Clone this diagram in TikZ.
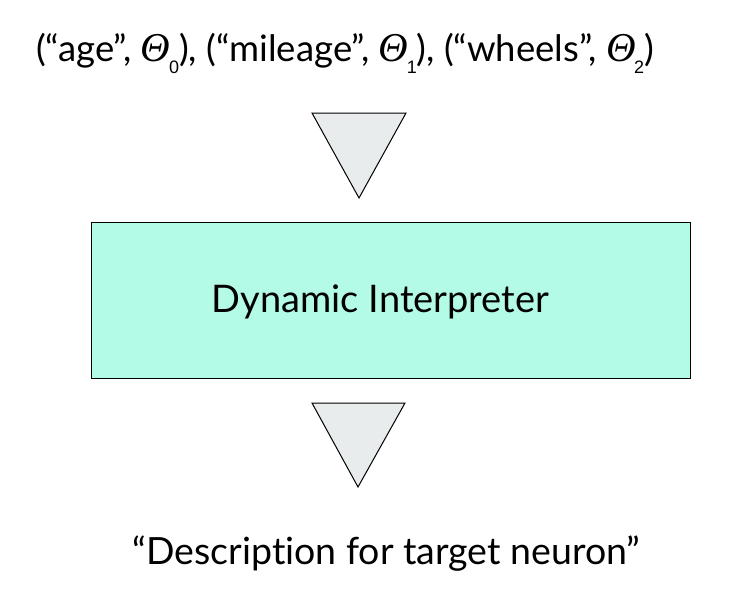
\documentclass[tikz,border=0pt]{standalone}
\usepackage{fontspec}
\setmainfont{Lato}[Ligatures=NoCommon]
\newfontfamily\thetafont{Liberation Serif}
\newfontfamily\subfont{Liberation Sans}
\usetikzlibrary{positioning}
\definecolor{mint}{HTML}{B3FBE6}
\definecolor{lgray}{HTML}{E8ECEC}
\tikzset{
  every picture/.style={
    every path/.style={line width=1pt},
  }
}
\tikzset{interp/.style = {draw, fill=mint, inner sep=0pt,
                          minimum width=599pt, minimum height=156pt}}
\tikzset{tri/.style = {draw, fill=lgray, line join=miter}}
\tikzset{txt/.style = {inner sep=0pt, anchor=base}}
\newcommand{\thsub}[1]{{\thetafont\fontsize{41}{42}\selectfont\itshape Θ}\kern-1.5pt\raisebox{-13pt}{\subfont\fontsize{18}{19}\selectfont #1}}

\begin{document}
\begin{tikzpicture}[x=1pt, y=-1pt]
        \useasboundingbox (0,0) rectangle (746,610);
        % input pairs
        \node[txt, font=\fontsize{36.5}{42}\selectfont] (pairs) at (345,61)
          {(“age”, \thsub{0}), (“mileage”, \thsub{1}), (“wheels”, \thsub{2})};
        % interpreter
        \node[interp] (interp) at (390.5,300) {};
        \node[txt, font=\fontsize{38}{45}\selectfont] (name) at (380.5,312)
          {Dynamic Interpreter};
        % arrows
        \draw[tri] (312,113) -- (406,113) -- (359,198) -- cycle;
        \draw[tri] (312,403) -- (405,403) -- (358,487) -- cycle;
        % output
        \node[txt, font=\fontsize{37.5}{44}\selectfont] (descr) at (386.5,564)
          {“Description for target neuron”};
    \end{tikzpicture}
\end{document}
